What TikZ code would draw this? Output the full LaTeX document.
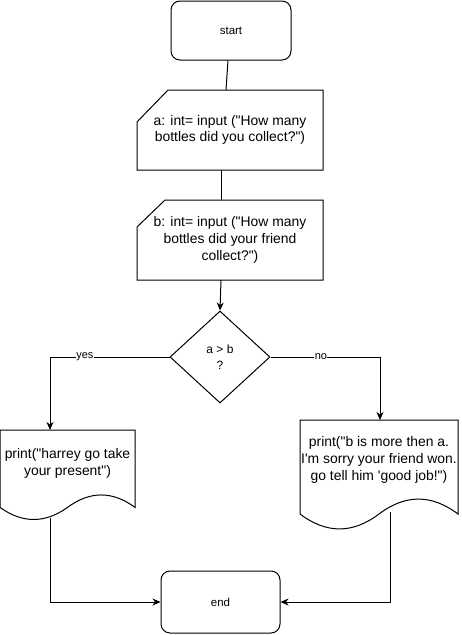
\documentclass[tikz,border=0pt]{standalone}
\usepackage{fontspec}
\setmainfont{Liberation Sans}[Ligatures=TeXOff]
\usetikzlibrary{arrows.meta,shapes.geometric}
\begin{document}
\begin{tikzpicture}[x=1pt,y=-1pt,
  shp/.style={draw=black,line width=1pt,fill=white},
  txt/.style={align=center,inner sep=0pt,font=\fontsize{13.9}{16.8}\selectfont},
  term/.style={shp,rounded corners=9pt,inner sep=0pt,font=\fontsize{11.5}{14}\selectfont},
  conn/.style={line width=1pt,draw=black},
  arr/.style={conn,-{Stealth[length=8pt,width=7pt,inset=2.5pt]}},
  lbl/.style={fill=white,inner sep=0.5pt,font=\fontsize{11}{13}\selectfont}]
\useasboundingbox (0,0) rectangle (462,635);

% start
\node[term,minimum width=120pt,minimum height=59pt] (start) at (231,30.5) {start};

% input a (manual input)
\draw[shp] (137,122) -- (168,90) -- (323,90) -- (323,170) -- (137,170) -- cycle;
\node[txt,minimum width=186pt,minimum height=80pt] (ina) at (230,130) {a: int= input ("How many\\bottles did you collect?")};

% input b
\draw[shp] (137,227) -- (165,200) -- (323,200) -- (323,280) -- (137,280) -- cycle;
\node[txt,minimum width=186pt,minimum height=80pt] (inb) at (230,240) {b: int= input ("How many\\bottles did your friend\\collect?")};

% decision
\node[shp,diamond,minimum width=100pt,minimum height=92pt,inner sep=0pt,aspect=1.087,
  align=center,font=\fontsize{12}{16}\selectfont] (dec) at (220,357) {a > b\\?};

% left document
\draw[shp] (0,430) -- (135,430) -- (135,507.4)
  .. controls (112.5,490.8) and (90,490.8) .. (67.5,507.4)
  .. controls (45,523.5) and (22.5,523.5) .. (0,507.4) -- cycle;
\node[txt,minimum width=135pt] (ldoc) at (67.5,463.5) {print("harrey go take\\your present")};
\coordinate (ltop) at (50,430);
\coordinate (lbot) at (50,518);

% right document
\draw[shp] (300,420) -- (458,420) -- (458,514)
  .. controls (431.7,494.1) and (405.3,494.1) .. (379,514)
  .. controls (352.7,533.9) and (326.3,533.9) .. (300,514) -- cycle;
\node[txt,minimum width=158pt] (rdoc) at (379,460) {print("b is more then a.\\I'm sorry your friend won.\\go tell him 'good job!")};
\coordinate (rtop) at (380,420);
\coordinate (rbot) at (390,512);

% end
\node[term,minimum width=119pt,minimum height=62pt] (end) at (220.5,602) {end};

% connectors
\draw[conn] ([xshift=-3pt]start.south) -- ([xshift=-4pt]ina.north);
\draw[conn] ([xshift=-9pt]ina.south) -- ([xshift=-9pt]inb.north);
\draw[arr] ([xshift=-9pt]inb.south) -- (dec.north);
\draw[arr] (dec.west) -| (ltop) node[lbl,pos=0.354] {yes};
\draw[arr] (dec.east) -| (rtop) node[lbl,pos=0.23] {no};
\draw[arr] (lbot) |- (end.west);
\draw[arr] (rbot) |- (end.east);
\end{tikzpicture}
\end{document}
